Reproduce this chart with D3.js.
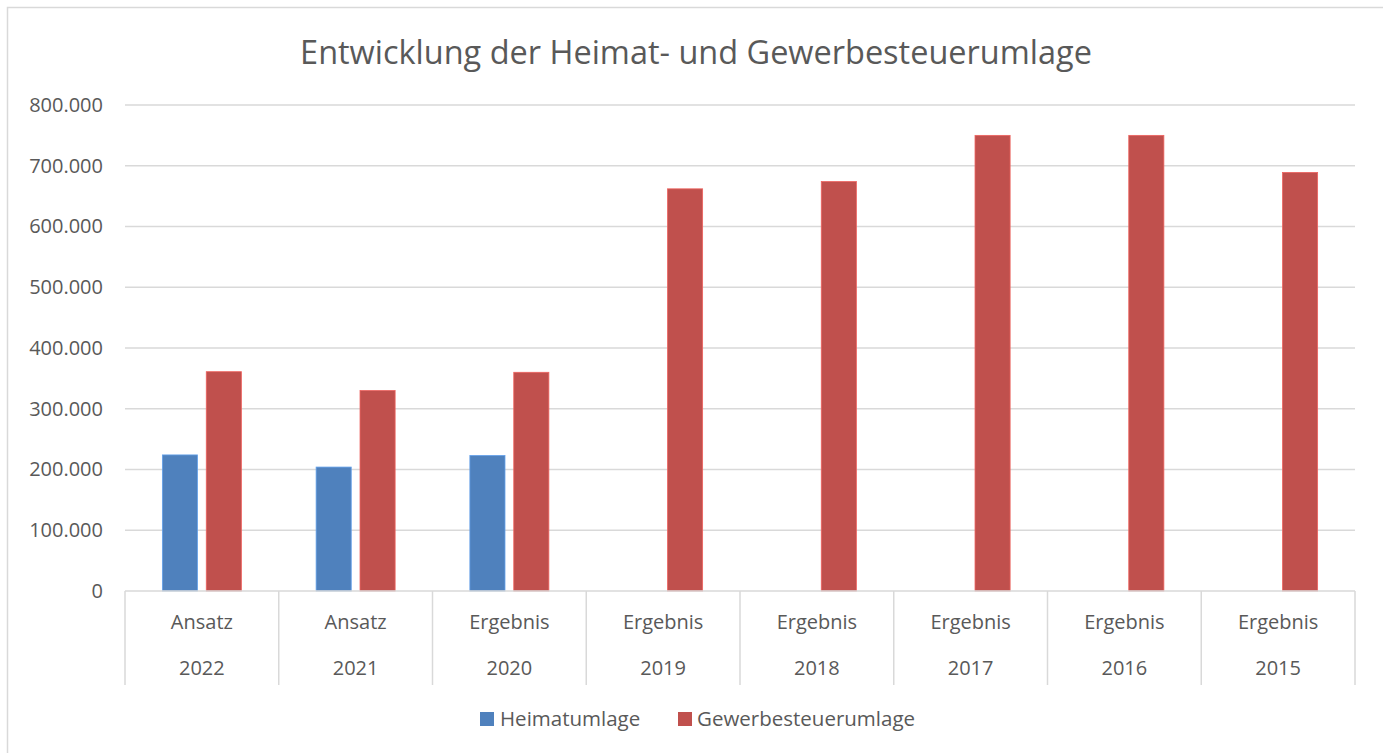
<!DOCTYPE html>
<html><head><meta charset="utf-8">
<script src="https://cdn.jsdelivr.net/npm/d3@7"></script>
<style>body{margin:0;background:#fff;} text{font-family:"Open Sans","Noto Sans",sans-serif;fill:#595959;}</style>
</head><body><svg id="c" width="1383" height="753"></svg>
<script>
const years = ["2022","2021","2020","2019","2018","2017","2016","2015"];
const kinds = ["Ansatz","Ansatz","Ergebnis","Ergebnis","Ergebnis","Ergebnis","Ergebnis","Ergebnis"];
const seriesNames = ["Heimatumlage","Gewerbesteuerumlage"];
const heimat = [224000, 204000, 223000, null, null, null, null, null];
const gewerbe = [361000, 330000, 360000, 662000, 674000, 750000, 750000, 689000];
const yTicks = [0,100000,200000,300000,400000,500000,600000,700000,800000];
const colors = ["#4F81BD","#C0504D"];

const svg = d3.select("#c");
svg.append("rect").attr("x",7.5).attr("y",7.5).attr("width",1383).attr("height",760)
  .attr("fill","#fff").attr("stroke","#d9d9d9").attr("stroke-width",1.5);

const L=125, R=1355, T=105, B=591;
const x = d3.scaleBand().domain(years).range([L,R]);
const xs = d3.scaleBand().domain(seriesNames).range([0,79]).paddingInner(0.2);
const y = d3.scaleLinear().domain([0,800000]).range([B,T]);

const fmt = v => v===0 ? "0" : d3.format(",")(v).replace(/,/g,".");

// gridlines
svg.append("g").selectAll("line").data(yTicks.filter(d=>d>0)).join("line")
  .attr("x1",L).attr("x2",R).attr("y1",d=>y(d)).attr("y2",d=>y(d))
  .attr("stroke","#d9d9d9").attr("stroke-width",1.5);

// y axis labels
const ya = svg.append("g").attr("transform",`translate(${L-22},0)`)
  .call(d3.axisLeft(y).tickValues(yTicks).tickFormat(fmt).tickSize(0).tickPadding(0));
ya.select(".domain").remove();
ya.selectAll("text").style("font-size","20px").attr("fill","#595959");

// bars
const data = years.map((yr,i)=>({yr, vals:[heimat[i],gewerbe[i]]}));
const g = svg.append("g");
data.forEach(d=>{
  const off = x(d.yr) + (x.bandwidth()-79)/2;
  d.vals.forEach((v,j)=>{
    if(v==null) return;
    g.append("rect").attr("x",off+xs(seriesNames[j])).attr("y",y(v))
      .attr("width",xs.bandwidth()).attr("height",B-y(v))
      .attr("fill",colors[j]).attr("stroke",d3.color(colors[j]).brighter(0.6)).attr("stroke-width",0.8);
  });
});

// category axis
svg.append("line").attr("x1",L).attr("x2",R).attr("y1",B).attr("y2",B).attr("stroke","#d9d9d9").attr("stroke-width",1.5);
const bounds = years.map(d=>x(d)).concat([R]);
svg.append("g").selectAll("line").data(bounds).join("line")
  .attr("x1",d=>d).attr("x2",d=>d).attr("y1",B).attr("y2",685)
  .attr("stroke","#d9d9d9").attr("stroke-width",1.5);
svg.append("g").selectAll("text").data(kinds).join("text")
  .attr("x",(d,i)=>x(years[i])+x.bandwidth()/2).attr("y",629)
  .attr("text-anchor","middle").style("font-size","20px").text(d=>d);
svg.append("g").selectAll("text").data(years).join("text")
  .attr("x",d=>x(d)+x.bandwidth()/2).attr("y",675)
  .attr("text-anchor","middle").style("font-size","20px").text(d=>d);

// title
const title = svg.append("text").attr("x",696).attr("y",64).attr("text-anchor","middle")
  .style("font-size","29px").text("Entwicklung der Heimat- und Gewerbesteuerumlage");
const tw = title.node().getComputedTextLength();
title.style("font-size",(29*792/tw)+"px");

// legend
const leg = [{x:480,tx:500},{x:678,tx:697}];
seriesNames.forEach((n,i)=>{
  svg.append("rect").attr("x",leg[i].x).attr("y",712).attr("width",14).attr("height",14).attr("fill",colors[i]);
  svg.append("text").attr("x",leg[i].tx).attr("y",726).style("font-size","20.5px").text(n);
});
</script></body></html>
